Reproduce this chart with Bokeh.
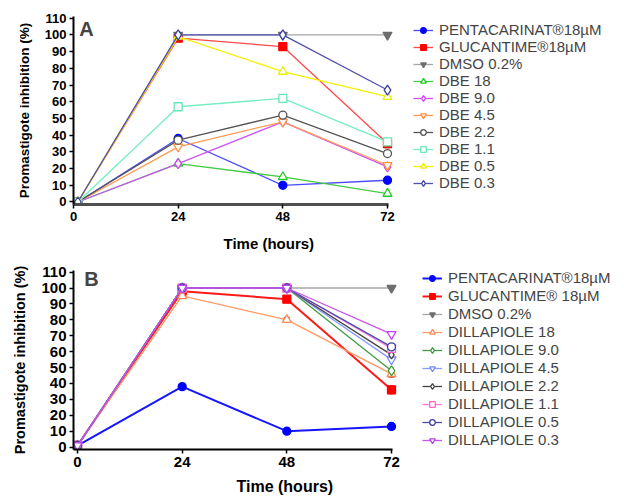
from bokeh.plotting import figure
from bokeh.models import Range1d, Legend, LegendItem, Label, FixedTicker, Whisker, ColumnDataSource, TeeHead, Title
from bokeh.layouts import column
from bokeh.embed import file_html
from bokeh.resources import INLINE

# ---------------- data ----------------
time_a = [1, 24, 48, 72]
time_b = [0, 24, 48, 72]
x_ticks = [0, 24, 48, 72]
y_ticks = [0, 10, 20, 30, 40, 50, 60, 70, 80, 90, 100, 110]

labels_a = ["PENTACARINAT®18µM", "GLUCANTIME®18µM", "DMSO 0.2%", "DBE 18", "DBE 9.0",
            "DBE 4.5", "DBE 2.2", "DBE 1.1", "DBE 0.5", "DBE 0.3"]
pentacarinat_a = [0, 38, 10, 13]
glucantime_a = [0, 98, 93, 35]
dmso_a = [0, 100, 100, 100]
dbe_18 = [0, 23, 15, 5]
dbe_9_0 = [0, 23, 48, 21]
dbe_4_5 = [0, 33, 48, 22]
dbe_2_2 = [0, 37, 52, 29]
dbe_1_1 = [0, 57, 62, 36]
dbe_0_5 = [0, 99, 78, 63]
dbe_0_3 = [0, 100, 100, 67]

labels_b = ["PENTACARINAT®18µM", "GLUCANTIME® 18µM", "DMSO 0.2%", "DILLAPIOLE 18", "DILLAPIOLE 9.0",
            "DILLAPIOLE 4.5", "DILLAPIOLE 2.2", "DILLAPIOLE 1.1", "DILLAPIOLE 0.5", "DILLAPIOLE 0.3"]
pentacarinat_b = [1, 38, 10, 13]
glucantime_b = [1, 98, 93, 36]
dmso_b = [1, 100, 100, 100]
dil_18 = [1, 95, 80, 46]
dil_9_0 = [1, 100, 100, 48]
dil_4_5 = [1, 100, 100, 55]
dil_2_2 = [1, 100, 100, 58]
dil_1_1 = [1, 100, 100, 62]
dil_0_5 = [1, 100, 100, 63]
dil_0_3 = [1, 100, 100, 71]

# error bars (time, value, sd)
err_a_time = [72]
err_a_val = [35]
err_a_sd = [2.5]
err_b_time = [48, 72, 72]
err_b_val = [80, 36, 46]
err_b_sd = [1.5, 2.5, 2]

FONT = "Liberation Sans"

# styles: (line color, marker color, marker, filled, size, line width)
styles_a = [
    ("#4b4bff", "#0000ff", "circle", True, 8, 1.3),
    ("#ff4a4a", "#ff0000", "square", True, 8, 1.3),
    ("#a6a6a6", "#6e6e6e", "inverted_triangle", True, 9, 1.3),
    ("#44cc44", "#22cc22", "triangle", False, 9, 1.3),
    ("#cc55ee", "#cc44ee", "diamond", False, 10, 1.3),
    ("#ff9a55", "#ff9040", "inverted_triangle", False, 9, 1.3),
    ("#555555", "#555555", "circle", False, 8, 1.3),
    ("#77eec0", "#66e6b6", "square", False, 8, 1.3),
    ("#f2f200", "#eeee00", "triangle", False, 9, 1.3),
    ("#5050aa", "#3f3fa0", "diamond", False, 10, 1.3),
]
styles_b = [
    ("#1515ff", "#0000ff", "circle", True, 8, 2),
    ("#ff1a1a", "#ff0000", "square", True, 8, 2),
    ("#a6a6a6", "#6e6e6e", "inverted_triangle", True, 9, 1.3),
    ("#ff9966", "#ff8855", "triangle", False, 9, 1.3),
    ("#449944", "#339933", "diamond", False, 10, 1.3),
    ("#8899ff", "#7788ff", "inverted_triangle", False, 9, 1.3),
    ("#444444", "#444444", "diamond", False, 8, 1.3),
    ("#ff77dd", "#ff66cc", "square", False, 8, 1.3),
    ("#4a4aaa", "#3d3da0", "circle", False, 8, 1.3),
    ("#cc55ee", "#bb44ee", "inverted_triangle", False, 9, 1.3),
]

PX_PER_HOUR = 4.361
FRAME_W = 547


def make_panel(height, x0, yr, top, bottom, times, series, labels, styles,
               tick_fs, ylabel_fs, letter, letter_xy, time_offset, time_standoff, time_fs,
               leg_loc, leg_fs, leg_spacing, xaxis_color, xaxis_w, errs):
    xr = (x0, x0 + FRAME_W / PX_PER_HOUR)
    p = figure(width=624, height=height, x_range=Range1d(*xr), y_range=Range1d(*yr),
               output_backend="svg", toolbar_location=None,
               min_border_left=73, min_border_right=624 - 73 - FRAME_W,
               min_border_top=top, min_border_bottom=bottom)
    p.xgrid.visible = False
    p.ygrid.visible = False
    p.outline_line_color = None
    p.background_fill_color = "white"
    p.border_fill_color = "white"

    p.xaxis.ticker = FixedTicker(ticks=x_ticks)
    p.yaxis.ticker = FixedTicker(ticks=y_ticks)
    p.xaxis.bounds = (x0, 72.3)
    for ax in (p.xaxis, p.yaxis):
        ax.major_label_text_font = FONT
        ax.major_label_text_font_style = "bold"
        ax.major_label_text_font_size = tick_fs
        ax.major_label_text_color = "black"
        ax.minor_tick_line_color = None
        ax.major_tick_in = 0
        ax.major_tick_out = 4
        ax.major_tick_line_color = "black"
        ax.major_tick_line_width = 1.5
    p.yaxis.axis_line_color = "black"
    p.yaxis.axis_line_width = 2
    p.xaxis.axis_line_color = xaxis_color
    p.xaxis.axis_line_width = xaxis_w
    p.xaxis.major_label_standoff = 3
    p.yaxis.major_label_standoff = 3
    p.yaxis.axis_label = "Promastigote inhibition (%)"
    p.yaxis.axis_label_text_font = FONT
    p.yaxis.axis_label_text_font_style = "bold"
    p.yaxis.axis_label_text_font_size = ylabel_fs
    p.yaxis.axis_label_text_color = "black"
    p.yaxis.axis_label_standoff = 10

    items = []
    for vals, lab, st in zip(series, labels, styles):
        lc, mc, mk, filled, sz, lw = st
        src = ColumnDataSource(dict(x=times, y=vals))
        ln = p.line("x", "y", source=src, line_color=lc, line_width=lw)
        sc = p.scatter("x", "y", source=src, marker=mk, size=sz, line_color=mc,
                       line_width=1.3, fill_color=mc if filled else "white")
        items.append(LegendItem(label=lab, renderers=[ln, sc]))

    et, ev, es = errs
    esrc = ColumnDataSource(dict(base=et, upper=[v + s for v, s in zip(ev, es)],
                                 lower=[v - s for v, s in zip(ev, es)]))
    p.add_layout(Whisker(source=esrc, base="base", upper="upper", lower="lower",
                         line_color="#cc0000", line_width=1,
                         upper_head=TeeHead(size=6, line_color="#cc0000"),
                         lower_head=TeeHead(size=6, line_color="#cc0000")))

    leg = Legend(items=items, location=leg_loc, border_line_color=None,
                 background_fill_alpha=0, padding=0, margin=0, spacing=leg_spacing,
                 label_text_font=FONT, label_text_font_size=leg_fs,
                 glyph_width=20, glyph_height=14, label_height=14, label_standoff=6)
    p.add_layout(leg, "center")

    p.add_layout(Label(x=letter_xy[0], y=letter_xy[1], text=letter, text_font=FONT,
                       text_font_style="bold", text_font_size="20px",
                       text_align="center", text_baseline="middle"))
    p.add_layout(Title(text="Time (hours)", align="left", offset=time_offset,
                       standoff=time_standoff, text_font=FONT, text_font_style="bold",
                       text_font_size=time_fs, text_color="black"), "below")
    return p


pa = make_panel(262, 0, (-1.5, 111), 16, 58, time_a,
                [pentacarinat_a, glucantime_a, dmso_a, dbe_18, dbe_9_0, dbe_4_5,
                 dbe_2_2, dbe_1_1, dbe_0_5, dbe_0_3],
                labels_a, styles_a, "13px", "13.5px", "A", (3, 103.5), 150, 18, "15px",
                (340, 13), "15px", 0, "#505050", 3,
                (err_a_time, err_a_val, err_a_sd))

pb = make_panel(242, -0.92, (-1.5, 111), 8, 55, time_b,
                [pentacarinat_b, glucantime_b, dmso_b, dil_18, dil_9_0, dil_4_5,
                 dil_2_2, dil_1_1, dil_0_5, dil_0_3],
                labels_b, styles_b, "15px", "14.5px", "B", (3.2, 105.6), 163, 13, "16px",
                (349, 1), "15px", 1, "black", 2,
                (err_b_time, err_b_val, err_b_sd))

layout = column(pa, pb, spacing=0)
open("out.html", "w").write(file_html(layout, INLINE))
